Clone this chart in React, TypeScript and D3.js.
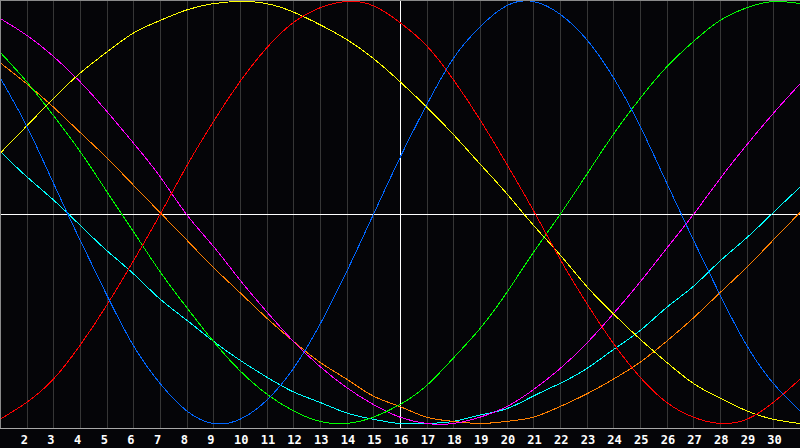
import React from 'react';
import * as d3 from 'd3';

// days shown on the chart (x = 1 is the left edge, 31 the right edge)
const days = d3.range(1, 32);
const tickDays = d3.range(2, 31);
const today = 16;

// cycle values in percent, read per day from the chart
const physical = [64, 41, 14, -13, -39, -63, -81, -94, -100, -98, -89, -74, -53, -28, -1, 26, 51, 73, 88, 98, 100, 94, 82, 64, 41, 14, -13, -39, -63, -81, -94];
const emotional = [-98, -90, -79, -63, -44, -23, -1, 22, 43, 62, 78, 90, 97, 100, 98, 90, 79, 63, 44, 23, 1, -22, -43, -62, -78, -90, -97, -100, -98, -90, -79];
const intellectual = [76, 62, 46, 29, 10, -9, -28, -45, -61, -75, -86, -94, -99, -100, -97, -91, -82, -69, -55, -38, -19, -1, 18, 37, 54, 69, 81, 91, 97, 100, 99];
const intuitive = [92, 84, 74, 62, 48, 33, 17, -1, -16, -32, -47, -61, -73, -83, -91, -97, -100, -100, -97, -92, -84, -74, -62, -48, -33, -17, -1, 16, 32, 47, 61];
const aesthetic = [28, 41, 54, 66, 76, 85, 91, 96, 99, 100, 99, 95, 89, 82, 73, 62, 50, 37, 23, 9, -6, -20, -35, -48, -60, -71, -81, -88, -94, -98, -100];
const awareness = [71, 61, 50, 38, 26, 13, 0, -13, -26, -38, -50, -61, -71, -79, -87, -92, -97, -99, -100, -99, -97, -92, -86, -79, -71, -61, -50, -38, -26, -13, 0];
const spiritual = [29, 17, 6, -6, -18, -29, -41, -51, -61, -70, -78, -85, -90, -95, -98, -100, -100, -99, -96, -93, -87, -81, -74, -65, -56, -45, -35, -23, -12, 0, 12];

const series = [
  { name: 'spiritual', values: spiritual, color: '#00ffff' },
  { name: 'awareness', values: awareness, color: '#ff8000' },
  { name: 'intuitive', values: intuitive, color: '#ff00ff' },
  { name: 'intellectual', values: intellectual, color: '#00ff00' },
  { name: 'aesthetic', values: aesthetic, color: '#ffff00' },
  { name: 'emotional', values: emotional, color: '#ff0000' },
  { name: 'physical', values: physical, color: '#0066ff' },
];

const width = 800;
const height = 448;
const plotH = 428;

export default function App() {
  const x = d3.scaleLinear().domain([1, 31]).range([0, width]);
  const y = d3.scaleLinear().domain([-100, 100]).range([423.5, 1.5]);

  const line = d3.line<number>()
    .x((d, i) => x(days[i]))
    .y(d => y(d))
    .curve(d3.curveNatural);

  return (
    <svg width={width} height={height}
         style={{ position: 'absolute', left: 0, top: 0, display: 'block' }}>
      <rect x={0} y={0} width={width} height={height} fill="#050508" />

      {tickDays.map(d => (
        <line key={'g' + d}
              x1={Math.round(x(d)) + 0.5} x2={Math.round(x(d)) + 0.5}
              y1={0} y2={plotH}
              stroke={d === today ? '#ffffff' : '#363636'}
              strokeWidth={1} shapeRendering="crispEdges" />
      ))}

      <line x1={0} x2={width} y1={plotH / 2 + 0.5} y2={plotH / 2 + 0.5}
            stroke="#ffffff" strokeWidth={1} shapeRendering="crispEdges" />

      {series.map(s => (
        <path key={s.name} d={line(s.values) || ''} fill="none"
              stroke={s.color} strokeWidth={1} shapeRendering="crispEdges" />
      ))}

      <line x1={0} x2={width} y1={0.5} y2={0.5} stroke="#8a8a8a" shapeRendering="crispEdges" />
      <line x1={0.5} x2={0.5} y1={0} y2={plotH} stroke="#8a8a8a" shapeRendering="crispEdges" />
      <line x1={0} x2={width} y1={plotH + 0.5} y2={plotH + 0.5} stroke="#a8a8a8" shapeRendering="crispEdges" />

      {tickDays.map(d => (
        <text key={'t' + d} x={x(d) - 6} y={444}
              fill="#ffffff" fontFamily="'DejaVu Sans Mono', monospace"
              fontWeight="bold" fontSize={12}>
          {d}
        </text>
      ))}
    </svg>
  );
}
